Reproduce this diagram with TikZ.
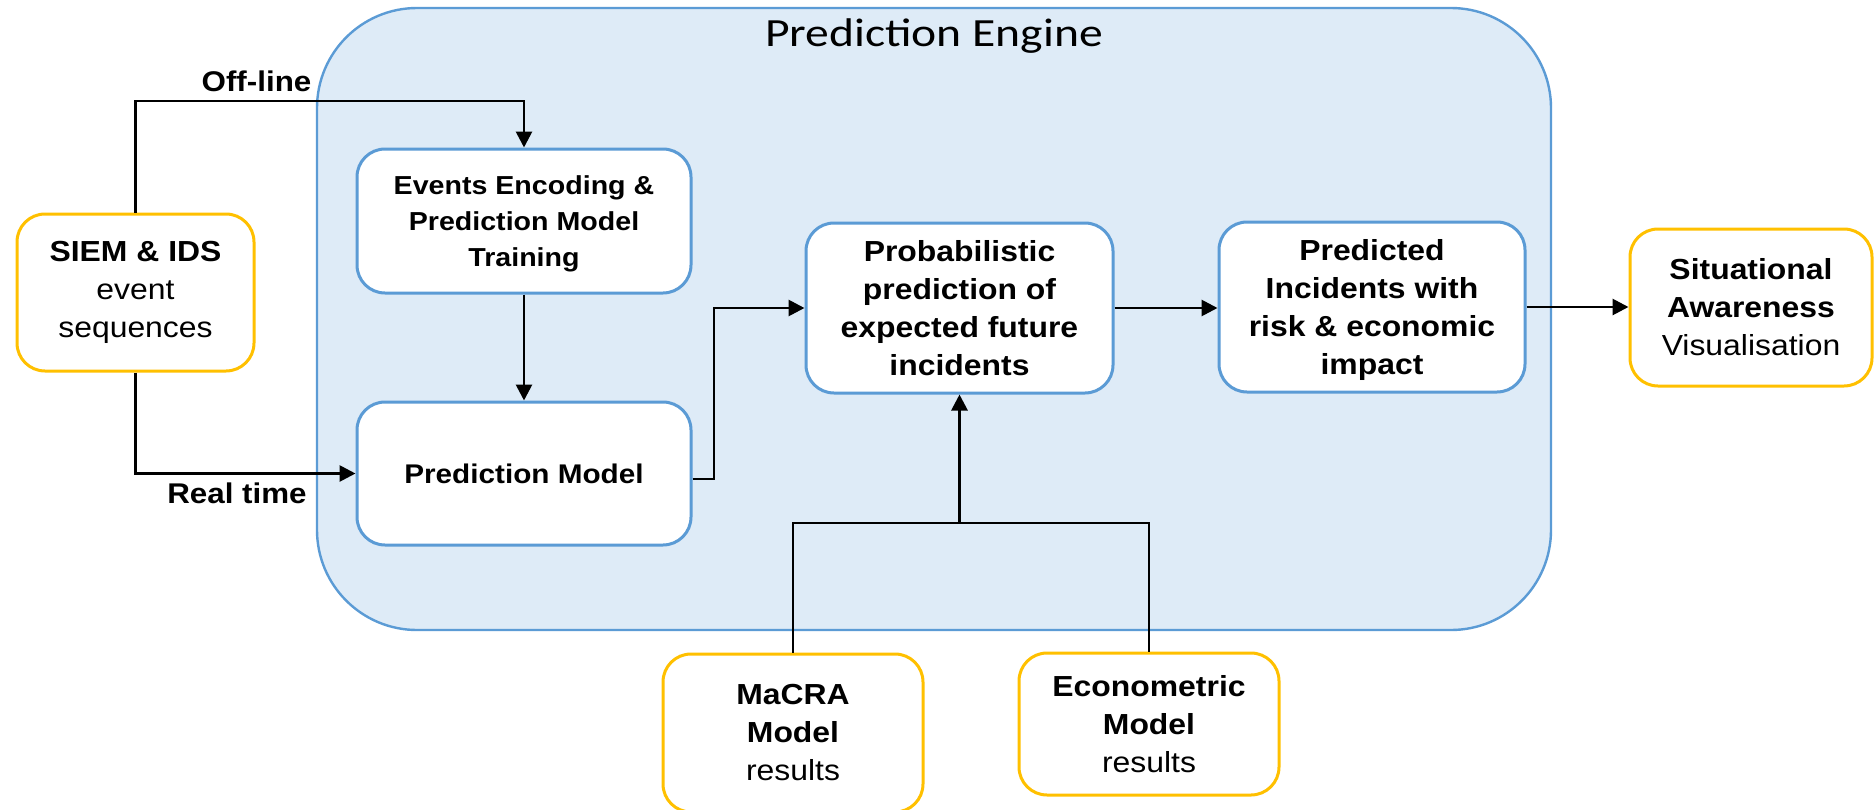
\documentclass[tikz,border=0pt]{standalone}
\usepackage{fontspec}
\setmainfont{Liberation Sans}[FakeStretch=1.1]
\newfontfamily\titlefont{Carlito}[FakeStretch=1.19]
\usetikzlibrary{arrows.meta}

\definecolor{engfill}{HTML}{DEEBF7}
\definecolor{engline}{HTML}{5B9BD5}
\definecolor{srcline}{HTML}{FFC000}

\tikzset{
  basebox/.style={rectangle, rounded corners=14pt, fill=white, align=center,
    inner sep=2pt, line width=1.5pt, font={\fontsize{14.5}{19}\selectfont}},
  stagebox/.style={basebox, draw=engline},
  srcbox/.style={basebox, draw=srcline},
  flow/.style={line width=1.4pt, draw=black},
  arr/.style={flow, -{Triangle[length=8pt,width=8pt]}},
  lbl/.style={font={\fontsize{14.25}{18}\selectfont\bfseries}, inner sep=0pt},
}

\begin{document}
\begin{tikzpicture}[x=0.5pt, y=-0.5pt]
  \clip (0,0) rectangle (1875,809);

  % engine container
  \draw[fill=engfill, draw=engline, line width=1.2pt, rounded corners=50pt]
    (317,8) rectangle (1551,630);
  \node[anchor=base, inner sep=0pt, font={\titlefont\fontsize{20}{24}\selectfont}]
    (title) at (934,46.7) {Prediction Engine};

  % stages inside the engine
  \node[stagebox, minimum width=167pt, minimum height=72pt,
        font={\fontsize{13}{18}\selectfont\bfseries}]
    (enc) at (524,221) {Events Encoding \&\\Prediction Model\\\smash{Training}};
  \node[stagebox, minimum width=167pt, minimum height=71.5pt,
        font={\fontsize{13.5}{18}\selectfont\bfseries}]
    (pm) at (524,473.5) {Prediction Model};
  \node[stagebox, minimum width=153.5pt, minimum height=85pt,
        font={\fontsize{14.5}{19}\selectfont\bfseries}]
    (prob) at (959.5,308) {Probabilistic\\prediction of\\expected future\\incidents};
  \node[stagebox, minimum width=153pt, minimum height=85pt,
        font={\fontsize{14.5}{19}\selectfont\bfseries}]
    (pred) at (1372,307) {Predicted\\Incidents with\\risk \& economic\\\smash{impact}};

  % sources and outputs
  \node[srcbox, minimum width=118.5pt, minimum height=78.5pt]
    (siem) at (135.5,292.5) {\textbf{SIEM \& IDS}\\event\\sequences};
  \node[srcbox, minimum width=121pt, minimum height=78.5pt]
    (sit) at (1751,307.5) {\textbf{Situational}\\\textbf{Awareness}\\Visualisation};
  \node[srcbox, minimum width=130pt, minimum height=79pt]
    (macra) at (793,733) {\textbf{MaCRA}\\\textbf{Model}\\results};
  \node[srcbox, minimum width=130pt, minimum height=71pt]
    (econ) at (1149,724) {\textbf{Econometric}\\\textbf{Model}\\results};

  % connectors
  \coordinate (offc) at (524,101);
  \draw[arr] (siem.north) |- (offc) -- (enc.north);
  \node[lbl, anchor=base] (offlbl) at (256.5,91) {Off-line};

  \draw[arr] (siem.south) |- (pm.west);
  \node[lbl, anchor=base] (rtlbl) at (237,503) {Real time};

  \draw[arr] (enc.south) -- (pm.north);
  \draw[arr] ([yshift=-2.75pt]pm.east) -- ++(21.5,0) |- (prob.west);
  \draw[arr] (prob.east) -- (prob.east -| pred.west);
  \draw[arr] (pred.east) -- (pred.east -| sit.west);

  \coordinate (join) at (959.5,523);
  \draw[flow] (macra.north) |- (join) -| (econ.north);
  \draw[arr] (join) -- (prob.south);
\end{tikzpicture}
\end{document}
